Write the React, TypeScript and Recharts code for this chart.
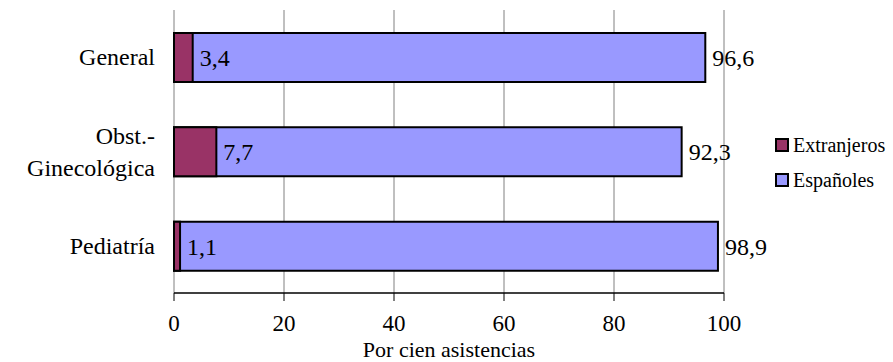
import { BarChart, Bar, XAxis, YAxis, CartesianGrid, LabelList, Label } from 'recharts'

const categories = ['General', 'Obst.-Ginecológica', 'Pediatría']
const extranjeros = [3.4, 7.7, 1.1]
const espanoles = [96.6, 92.3, 98.9]
const xTicks = [0, 20, 40, 60, 80, 100]
const edgeTicks = [0, 1, 2, 3]

const seriesNames = ['Extranjeros', 'Españoles']
const seriesColors = ['#993366', '#9999FF']

const FONT = '"Times New Roman", "Liberation Serif", serif'

const data = categories.map((name, i) => ({
  name,
  ext: extranjeros[i],
  esp: espanoles[i],
}))

const fmt = (v: any) => String(v).replace('.', ',')

// category names, "Obst.-Ginecológica" breaks after the hyphen
function CategoryTick(props: any) {
  const { x, y, payload } = props
  const lines: string[] = String(payload.value).split(/(?<=-)/)
  const lh = 32
  const start = -((lines.length - 1) * lh) / 2
  return (
    <text x={x} y={y} textAnchor='end' fontSize={24} fontFamily={FONT} fill='#000'>
      {lines.map((ln, i) => (
        <tspan key={i} x={x} y={y + start + i * lh} dy='0.34em'>
          {ln}
        </tspan>
      ))}
    </text>
  )
}

export default function App() {
  return (
    <div style={{ position: 'absolute', left: 0, top: 0, width: 893, height: 362, background: '#fff', fontFamily: FONT }}>
      <BarChart
        width={893}
        height={362}
        data={data}
        layout='vertical'
        margin={{ top: 10, right: 169, bottom: 0, left: 0 }}
      >
        <CartesianGrid horizontal={false} stroke='#808080' strokeWidth={1} />
        <XAxis
          type='number'
          domain={[0, 100]}
          ticks={xTicks}
          height={69}
          tickSize={8}
          tickMargin={14}
          axisLine={{ stroke: '#000', strokeWidth: 1.5 }}
          tickLine={{ stroke: '#000' }}
          tick={{ fill: '#000', fontSize: 23, fontFamily: FONT }}
        >
          <Label
            value='Por cien asistencias'
            position='insideBottom'
            offset={5}
            fill='#000'
            fontSize={22}
            fontFamily={FONT}
          />
        </XAxis>
        <YAxis
          yAxisId='edge'
          type='number'
          domain={[0, 3]}
          ticks={edgeTicks}
          width={0}
          tick={false}
          tickSize={8}
          axisLine={{ stroke: '#000', strokeWidth: 1.5 }}
          tickLine={{ stroke: '#000' }}
        />
        <YAxis
          yAxisId='cat'
          type='category'
          dataKey='name'
          width={174}
          axisLine={false}
          tickLine={false}
          tickSize={0}
          tickMargin={19}
          tick={<CategoryTick />}
        />
        <YAxis yAxisId='cat2' type='category' dataKey='name' hide />
        <Bar
          yAxisId='cat'
          dataKey='esp'
          name={seriesNames[1]}
          fill={seriesColors[1]}
          stroke='#000'
          strokeWidth={2}
          barSize={49}
          isAnimationActive={false}
        >
          <LabelList
            dataKey='esp'
            position='right'
            offset={7}
            formatter={fmt}
            fill='#000'
            fontSize={24}
            fontFamily={FONT}
          />
        </Bar>
        <Bar
          yAxisId='cat2'
          dataKey='ext'
          name={seriesNames[0]}
          fill={seriesColors[0]}
          stroke='#000'
          strokeWidth={2}
          barSize={49}
          isAnimationActive={false}
        >
          <LabelList
            dataKey='ext'
            position='right'
            offset={7}
            formatter={fmt}
            fill='#000'
            fontSize={24}
            fontFamily={FONT}
          />
        </Bar>
      </BarChart>
      <div style={{ position: 'absolute', left: 775, top: 127, fontSize: 20, color: '#000' }}>
        {seriesNames.map((n, i) => (
          <div key={n} style={{ display: 'flex', alignItems: 'center', height: 35, lineHeight: '20px' }}>
            <span
              style={{
                display: 'inline-block',
                width: 10,
                height: 10,
                border: '2px solid #000',
                background: seriesColors[i],
                marginRight: 4,
              }}
            />
            <span>{n}</span>
          </div>
        ))}
      </div>
    </div>
  )
}
